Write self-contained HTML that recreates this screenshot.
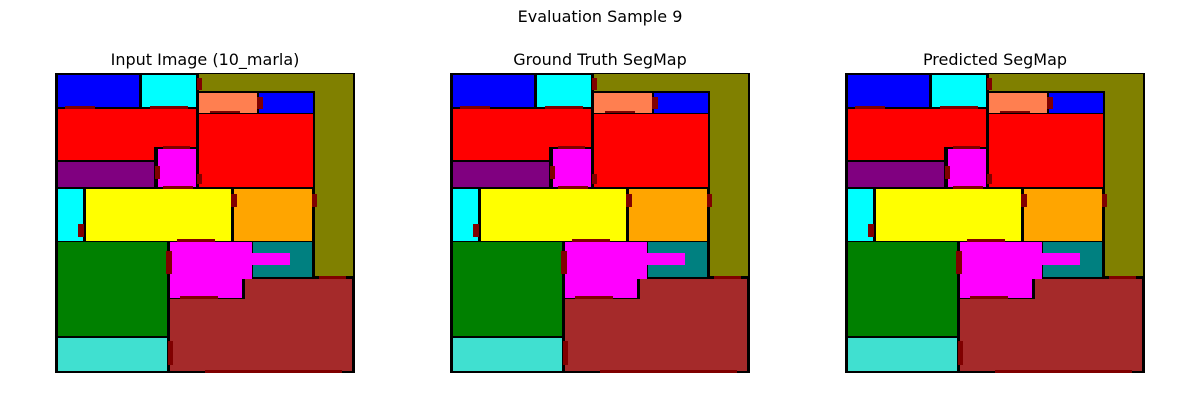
<!DOCTYPE html>
<html><head><meta charset="utf-8"><style>
html,body{margin:0;padding:0;background:#fff;}
svg{display:block;font-family:"DejaVu Sans","Liberation Sans",sans-serif;}
</style></head><body>
<svg id="fig" width="1200" height="400" viewBox="0 0 1200 400">
<text x="600" y="22" text-anchor="middle" font-size="16">Evaluation Sample 9</text>
</svg>
<script>
const panelTitles = ["Input Image (10_marla)", "Ground Truth SegMap", "Predicted SegMap"];
const panelX = [55, 450, 845];
const rooms = [
 ["blue-room",3,2,84,34,"#0000ff"],
 ["cyan-room",87,2,141,34,"#00ffff"],
 ["olive-top",144,1,298,18,"#808000"],
 ["olive-side",260,1,298,203,"#808000"],
 ["salmon-room",144,20,202,40,"#ff7f50"],
 ["blue-small-room",204,20,258,40,"#0000ff"],
 ["red-left-room",3,36,141,74,"#ff0000"],
 ["red-left-lower",3,74,99,87,"#ff0000"],
 ["red-right-room",144,41,258,114,"#ff0000"],
 ["purple-room",3,89,99,114,"#800080"],
 ["magenta-small-room",103,76,141,114,"#ff00ff"],
 ["cyan-left-room",3,116,28,168,"#00ffff"],
 ["yellow-room",31,116,176,168,"#ffff00"],
 ["orange-room",179,116,257,168,"#ffa500"],
 ["green-room",3,169,112,263,"#008000"],
 ["turquoise-room",3,265,112,298,"#40e0d0"],
 ["teal-room",198,169,257,204,"#008080"],
 ["magenta-big-room",115,169,197,206,"#ff00ff"],
 ["magenta-big-lower",115,206,187,225,"#ff00ff"],
 ["magenta-arm",197,180,235,192,"#ff00ff"],
 ["brown-room",115,226,297,298,"#a52a2a"],
 ["brown-upper",190,206,297,226,"#a52a2a"]
];
const doors = [[142,5,147,17],[10,33,40,36],[95,33,133,36],[202,24,208,36],[155,38,185,40],[108,73,135,76],[100,93,105,106],[142,101,147,111],[108,113,138,116],[176,121,182,134],[257,121,262,134],[23,151,29,164],[122,166,160,169],[111,178,117,201],[264,203,291,206],[125,223,163,226],[113,268,118,292],[150,297,287,300]];
const svg = document.getElementById('fig');
const NS = "http://www.w3.org/2000/svg";
panelTitles.forEach((t,i)=>{
  const g = document.createElementNS(NS,'g');
  
  
  g.setAttribute('transform','translate('+panelX[i]+',73)');
  const tt = document.createElementNS(NS,'text');
  
  
  tt.setAttribute('x',150); tt.setAttribute('y',-8);
  tt.setAttribute('text-anchor','middle'); tt.setAttribute('font-size','16');
  tt.textContent = t; g.appendChild(tt);
  const bg = document.createElementNS(NS,'rect');
  
  
  bg.setAttribute('x',0); bg.setAttribute('y',0); bg.setAttribute('width',300); bg.setAttribute('height',300); bg.setAttribute('fill','#000');
  g.appendChild(bg);
  rooms.forEach(r=>{
    const e = document.createElementNS(NS,'rect');
    
    
    e.setAttribute('x',r[1]); e.setAttribute('y',r[2]);
    e.setAttribute('width',r[3]-r[1]); e.setAttribute('height',r[4]-r[2]);
    e.setAttribute('fill',r[5]); g.appendChild(e);
  });
  doors.forEach(d=>{
    const e = document.createElementNS(NS,'rect');
    
    
    e.setAttribute('x',d[0]); e.setAttribute('y',d[1]);
    e.setAttribute('width',d[2]-d[0]); e.setAttribute('height',d[3]-d[1]);
    e.setAttribute('fill','#800000'); g.appendChild(e);
  });
  svg.appendChild(g);
});
</script>
</body></html>
